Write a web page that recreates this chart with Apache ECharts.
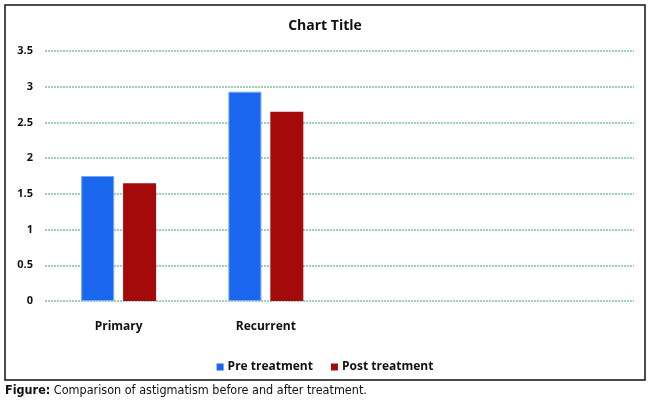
<!DOCTYPE html>
<html>
<head>
<meta charset="utf-8">
<title>Chart Title</title>
<script src="https://cdn.jsdelivr.net/npm/echarts@6/dist/echarts.min.js"></script>
<style>
  html, body {margin: 0; padding: 0; background: #fff;}
  #main {width: 650px; height: 402px;}
</style>
</head>
<body>
<div id="main"></div>
<script>
// data
var categories = ['Primary', 'Recurrent', '', ''];
var preTreatment = [1.75, 2.93, null, null];
var postTreatment = [1.65, 2.65, null, null];
var seriesNames = ['Pre treatment', 'Post treatment'];
var yTicks = {min: 0, max: 3.5, interval: 0.5};

var chart = echarts.init(document.getElementById('main'));
var labelFont = 'Open Sans';
var captionFont = '"DejaVu Sans Condensed", "Liberation Sans", sans-serif';

var option = {
  animation: false,
  title: {
    text: 'Chart Title',
    left: 'center',
    top: 14,
    textStyle: {fontFamily: labelFont, fontWeight: 'bold', fontSize: 14, color: '#111'}
  },
  legend: {
    data: seriesNames,
    left: 'center',
    top: 356,
    itemWidth: 7,
    itemHeight: 7,
    itemGap: 18,
    icon: 'rect',
    itemStyle: {borderWidth: 0},
    textStyle: {fontFamily: labelFont, fontWeight: 'bold', fontSize: 12, color: '#111', padding: [0, 0, 0, -1]}
  },
  grid: {left: 45, right: 16, top: 51, bottom: 101, containLabel: false},
  xAxis: {
    type: 'category',
    data: categories,
    axisLine: {show: false},
    axisTick: {show: false},
    axisLabel: {fontFamily: labelFont, fontWeight: 'bold', fontSize: 12, color: '#111', margin: 20}
  },
  yAxis: {
    type: 'value',
    min: yTicks.min,
    max: yTicks.max,
    interval: yTicks.interval,
    axisLine: {show: false},
    axisTick: {show: false},
    axisLabel: {fontFamily: labelFont, fontWeight: 'bold', fontSize: 11, color: '#111', margin: 12},
    splitLine: {lineStyle: {color: '#7cc39a', width: 1.5, type: [2, 1]}}
  },
  series: [
    {
      name: seriesNames[0],
      type: 'bar',
      data: preTreatment,
      barWidth: 33,
      barGap: '27%',
      itemStyle: {color: '#1a66ee', borderColor: '#6fa8ff', borderWidth: 1}
    },
    {
      name: seriesNames[1],
      type: 'bar',
      data: postTreatment,
      barWidth: 33,
      itemStyle: {color: '#a50a0a'}
    }
  ],
  graphic: [
    {
      type: 'rect',
      shape: {x: 5, y: 5, width: 640, height: 375},
      style: {fill: 'none', stroke: '#111', lineWidth: 1.5},
      silent: true
    },
    {
      type: 'text',
      left: 5,
      top: 384,
      style: {
        text: '{b|Figure:} Comparison of astigmatism before and after treatment.',
        rich: {
          b: {fontFamily: captionFont, fontWeight: 'bold', fontSize: 12.5, fill: '#111'}
        },
        font: '12.5px ' + captionFont,
        fill: '#111'
      }
    }
  ]
};

chart.setOption(option);
window.onresize = chart.resize;
</script>
</body>
</html>
